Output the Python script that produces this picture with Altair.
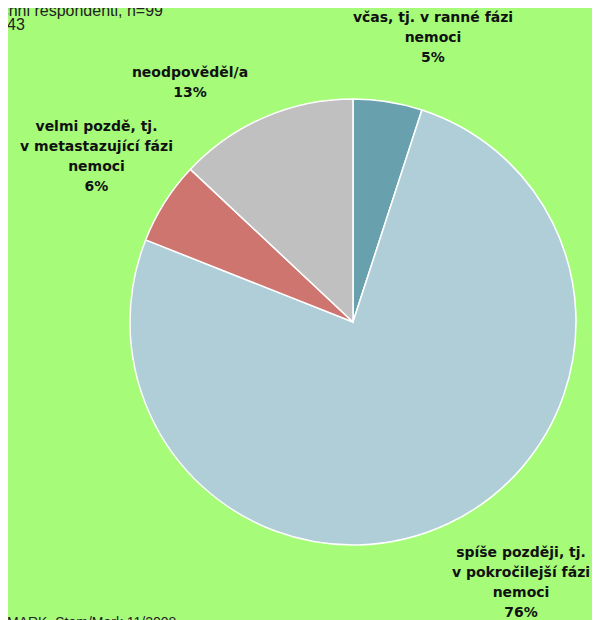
import altair as alt
import pandas as pd

categories = ["včas, tj. v ranné fázi nemoci",
              "spíše později, tj. v pokročilejší fázi nemoci",
              "velmi pozdě, tj. v metastazující fázi nemoci",
              "neodpověděl/a"]
values = [5, 76, 6, 13]
colors = ["#68A0AE", "#B0CED7", "#CE7570", "#C0C0C0"]

label_lines = [
    ["včas, tj. v ranné fázi", "nemoci", "5%"],
    ["spíše později, tj.", "v pokročilejší fázi", "nemoci", "76%"],
    ["velmi pozdě, tj.", "v metastazující fázi", "nemoci", "6%"],
    ["neodpověděl/a", "13%"],
]
label_pos = [(425, 10), (513, 545), (88.5, 119), (182, 65)]

df = pd.DataFrame({"cat": categories, "val": values, "idx": list(range(len(values)))})

BG = "#A6FC79"
CX, CY, R = 345, 314, 223

pie = alt.Chart(df).mark_arc(outerRadius=R, stroke="white", strokeWidth=1.5).encode(
    theta=alt.Theta("val:Q", stack=True),
    order=alt.Order("idx:Q"),
    color=alt.Color("cat:N", scale=alt.Scale(domain=categories, range=colors), legend=None),
    x=alt.value(CX),
    y=alt.value(CY),
)

layers = [pie]
for lines, (lx, ly) in zip(label_lines, label_pos):
    t = alt.Chart(pd.DataFrame({"t": [lines]})).mark_text(
        font="DejaVu Sans", fontWeight="bold", fontSize=14, align="center",
        baseline="middle", lineHeight=20, color="#111111", x=lx, y=ly,
    ).encode(text="t")
    layers.append(t)

note1 = alt.Chart(pd.DataFrame({"t": ["Báze: všichni respondenti, n=99"]})).mark_text(
    font="Liberation Sans", fontSize=16, align="right", baseline="alphabetic",
    color="#222222", x=155, y=8).encode(text="t")
note2 = alt.Chart(pd.DataFrame({"t": ["43"]})).mark_text(
    font="Liberation Sans", fontSize=16, align="left", baseline="alphabetic",
    color="#222222", x=-1, y=22).encode(text="t")
note3 = alt.Chart(pd.DataFrame({"t": ["MARK, Stem/Mark 11/2008"]})).mark_text(
    font="Liberation Sans", fontSize=14, align="left", baseline="alphabetic",
    color="#222222", x=-1, y=619).encode(text="t")
layers += [note1, note2, note3]

chart = alt.layer(*layers).properties(
    width=584, height=612, background=BG, padding=0,
    autosize=alt.AutoSizeParams(type="none"),
).configure_view(stroke=None, fill=BG)

chart.save("out.html", embed_options={"renderer": "svg", "actions": False})
